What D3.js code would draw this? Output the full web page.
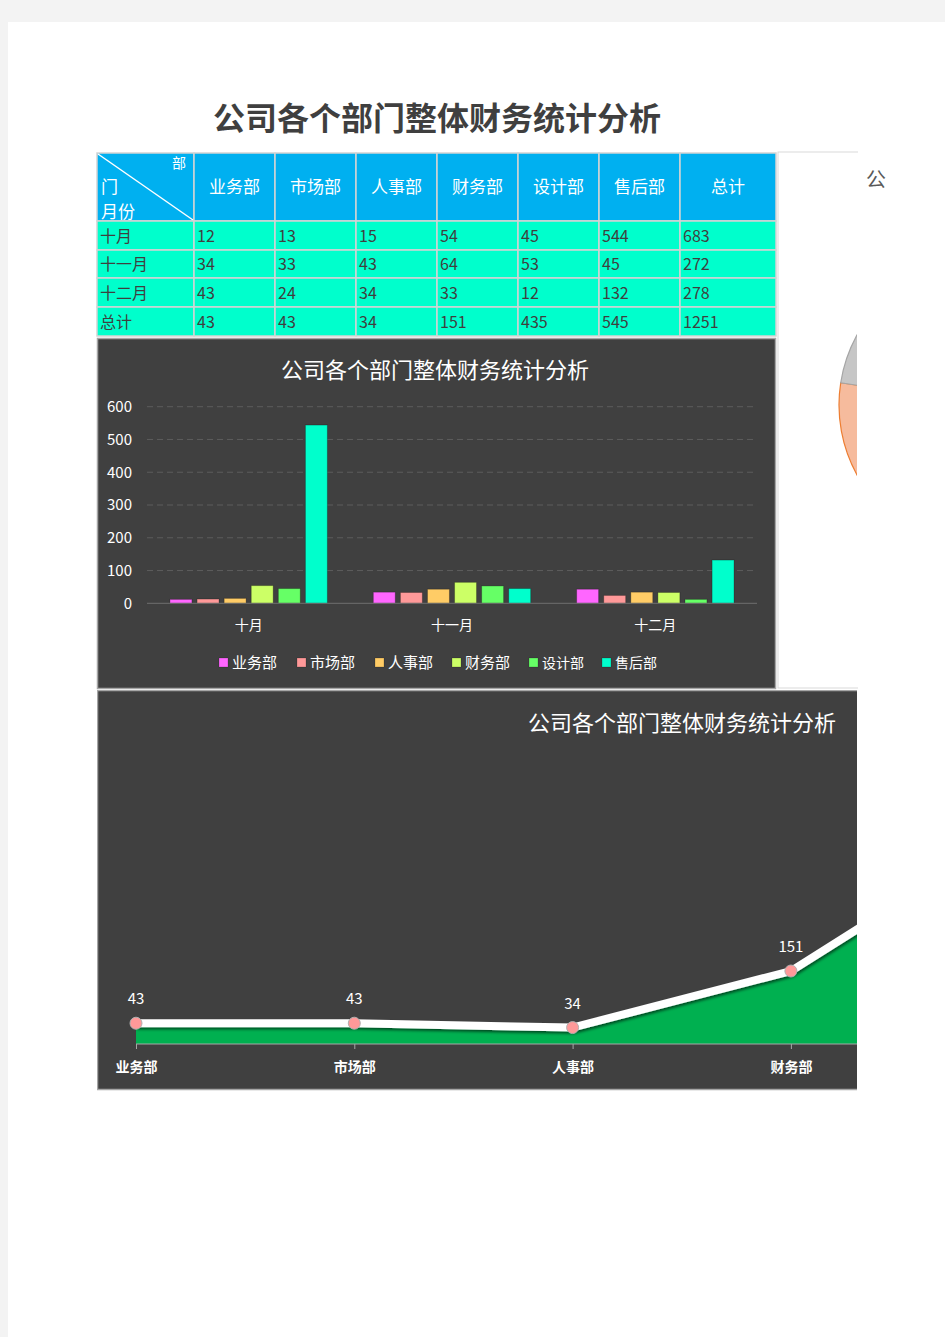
<!DOCTYPE html>
<html><head><meta charset="utf-8">
<script src="https://cdn.jsdelivr.net/npm/d3@7"></script>
<style>
html,body{margin:0;padding:0;background:#f3f3f3;}
svg{display:block;}
text{font-family:"Noto Sans CJK SC","Noto Sans",sans-serif;}
</style></head>
<body>
<svg id="c" width="945" height="1337"></svg>
<script>
const title = "公司各个部门整体财务统计分析";
const depts = ["业务部","市场部","人事部","财务部","设计部","售后部"];
const months = ["十月","十一月","十二月"];
const rowLabels = ["十月","十一月","十二月","总计"];
const octVals = [12,13,15,54,45,544];
const novVals = [34,33,43,64,53,45];
const decVals = [43,24,34,33,12,132];
const totalRow = [43,43,34,151,435,545];
const rowTotals = [683,272,278,1251];
const monthSeries = [octVals, novVals, decVals];
const yTicks = [0,100,200,300,400,500,600];
const deptColors = ["#ff66ff","#ff9999","#ffcc66","#ccff66","#66ff66","#00ffcc"];
const pieColors = ["#9dc3e6","#f6bb9d","#c6c6c6"];
const pieStroke = ["#5b9bd5","#ed7d31","#a5a5a5"];

const svg = d3.select("#c");
const defs = svg.append("defs");
const visibleRight = 857;

// page
svg.append("rect").attr("x",8).attr("y",22).attr("width",945).attr("height",1320).attr("fill","#fff");

// main title
svg.append("text").attr("x",437).attr("y",130).attr("text-anchor","middle")
  .attr("font-size",32).attr("font-weight","bold").attr("fill","#3f3f3f").text(title);

// ---------- Table ----------
const colEdges = [97,194,275,356,437,518,599,680,776];
const rowEdges = [153,221,250,278,307,336];
const tbl = svg.append("g");
for (let c=0;c<8;c++){
  tbl.append("rect").attr("x",colEdges[c]).attr("y",rowEdges[0])
    .attr("width",colEdges[c+1]-colEdges[c]).attr("height",rowEdges[1]-rowEdges[0])
    .attr("fill","#00b0f0").attr("stroke","#d4d4d4").attr("stroke-width",1.5);
}
const headers = depts.concat(["总计"]);
headers.forEach((h,i)=>{
  tbl.append("text").attr("x",(colEdges[i+1]+colEdges[i+2])/2).attr("y",193)
    .attr("text-anchor","middle").attr("font-size",17).attr("fill","#fff").text(h);
});
tbl.append("line").attr("x1",98).attr("y1",154).attr("x2",193).attr("y2",220)
  .attr("stroke","#fff").attr("stroke-width",1.5);
tbl.append("text").attr("x",186).attr("y",168).attr("text-anchor","end").attr("font-size",14).attr("fill","#fff").text("部");
tbl.append("text").attr("x",101).attr("y",193).attr("font-size",17).attr("fill","#fff").text("门");
tbl.append("text").attr("x",101).attr("y",218).attr("font-size",17).attr("fill","#fff").text("月份");
const bodyRows = [octVals, novVals, decVals, totalRow];
bodyRows.forEach((vals,r)=>{
  const y0 = rowEdges[r+1], y1 = rowEdges[r+2];
  const cells = [rowLabels[r]].concat(vals).concat([rowTotals[r]]);
  cells.forEach((v,c)=>{
    tbl.append("rect").attr("x",colEdges[c]).attr("y",y0)
      .attr("width",colEdges[c+1]-colEdges[c]).attr("height",y1-y0)
      .attr("fill","#00ffcc").attr("stroke","#d4d4d4").attr("stroke-width",1.5);
    tbl.append("text").attr("x",colEdges[c]+3).attr("y",(y0+y1)/2+6)
      .attr("font-size",16).attr("fill","#3f3f3f").text(v);
  });
});

// ---------- Right pie panel (clipped) ----------
defs.append("clipPath").attr("id","pieclip").append("rect")
  .attr("x",779).attr("y",153).attr("width",78).attr("height",535);
svg.append("rect").attr("x",778).attr("y",152).attr("width",90).attr("height",536)
  .attr("fill","#fff").attr("stroke","#d9d9d9");
svg.append("rect").attr("x",858).attr("y",140).attr("width",90).attr("height",560).attr("fill","#fff");
const pieG = svg.append("g").attr("clip-path","url(#pieclip)")
  .append("g").attr("transform","translate(984,405)");
const pie = d3.pie().sort(null)(rowTotals.slice(0,3));
const arc = d3.arc().innerRadius(0).outerRadius(145);
pieG.selectAll("path").data(pie).join("path").attr("d",arc)
  .attr("fill",(d,i)=>pieColors[i]).attr("stroke",(d,i)=>pieStroke[i]).attr("stroke-width",1.2);
svg.append("text").attr("x",866).attr("y",187).attr("font-size",20).attr("fill","#595959").text(title.charAt(0));

// ---------- Bar chart ----------
const bc = svg.append("g");
bc.append("rect").attr("x",97.5).attr("y",338.5).attr("width",678).attr("height",350)
  .attr("fill","#404040").attr("stroke","#a6a6a6").attr("stroke-width",1.5);
bc.append("text").attr("x",435).attr("y",378).attr("text-anchor","middle")
  .attr("font-size",22).attr("fill","#fff").text(title);
const by = d3.scaleLinear().domain([0,600]).range([603.3,406.7]);
const bx = d3.scaleBand().domain(months).range([147,757]).padding(0);
const bw = bx.bandwidth();
const bsub = d3.scaleBand().domain(depts).range([bw*0.113,bw*0.887]).paddingInner(0.19);
const grid = bc.append("g");
yTicks.forEach(t=>{
  if (t>0) grid.append("line").attr("x1",147).attr("x2",757).attr("y1",by(t)).attr("y2",by(t))
    .attr("stroke","#5c5c5c").attr("stroke-dasharray","6,4").attr("stroke-width",1);
});
const yAxis = d3.axisLeft(by).tickValues(yTicks).tickSize(0).tickPadding(0);
const yg = bc.append("g").attr("transform","translate(132,0)").call(yAxis);
yg.select(".domain").remove();
yg.selectAll("text").attr("font-size",15).attr("fill","#fff").attr("font-family","'Noto Sans CJK SC',sans-serif");
months.forEach((m,mi)=>{
  const g = bc.append("g").attr("transform",`translate(${bx(m)},0)`);
  g.selectAll("rect").data(monthSeries[mi]).join("rect")
    .attr("x",(d,i)=>bsub(depts[i])).attr("width",bsub.bandwidth())
    .attr("y",d=>by(d)).attr("height",d=>by(0)-by(d))
    .attr("fill",(d,i)=>deptColors[i]).attr("stroke","rgba(0,0,0,0.25)").attr("stroke-width",1);
});
bc.append("line").attr("x1",147).attr("x2",757).attr("y1",by(0)).attr("y2",by(0)).attr("stroke","#6e6e6e");
const xAxis = d3.axisBottom(bx).tickSize(0).tickPadding(0);
const xg = bc.append("g").attr("transform","translate(0,620)").call(xAxis);
xg.select(".domain").remove();
xg.selectAll("text").attr("font-size",14).attr("fill","#fff").attr("font-family","'Noto Sans CJK SC',sans-serif");
const legX = [219,297,375,452,529,602];
const legSize = [15,15,15,15,14,14];
depts.forEach((d,i)=>{
  bc.append("rect").attr("x",legX[i]).attr("y",658).attr("width",9).attr("height",9)
    .attr("fill",deptColors[i]).attr("stroke","rgba(0,0,0,0.3)").attr("stroke-width",0.6);
  bc.append("text").attr("x",legX[i]+13).attr("y",668).attr("font-size",legSize[i]).attr("fill","#fff").text(d);
});

// ---------- Area chart ----------
defs.append("clipPath").attr("id","areaclip").append("rect")
  .attr("x",97).attr("y",690).attr("width",760).attr("height",401);
const shadow = defs.append("filter").attr("id","sh").attr("x","-10%").attr("y","-50%").attr("width","120%").attr("height","200%");
shadow.append("feDropShadow").attr("dx",1).attr("dy",2).attr("stdDeviation",1.5).attr("flood-color","#000").attr("flood-opacity",0.6);
const ac = svg.append("g").attr("clip-path","url(#areaclip)");
ac.append("rect").attr("x",97.5).attr("y",690.5).attr("width",770).attr("height",399)
  .attr("fill","#404040").attr("stroke","#a6a6a6").attr("stroke-width",1.5);
ac.append("text").attr("x",682).attr("y",731).attr("text-anchor","middle")
  .attr("font-size",22).attr("fill","#fff").text(title);
const ax = d3.scalePoint().domain(depts).range([136,136+5*218.3]);
const ay = d3.scaleLinear().domain([0,600]).range([1044,754]);
const area = d3.area().x((d,i)=>ax(depts[i])).y0(ay(0)).y1(d=>ay(d));
ac.append("path").datum(totalRow).attr("d",area).attr("fill","#00b050");
const line = d3.line().x((d,i)=>ax(depts[i])).y(d=>ay(d));
ac.append("path").datum(totalRow).attr("d",line).attr("fill","none")
  .attr("stroke","#fff").attr("stroke-width",8).attr("filter","url(#sh)");
ac.append("line").attr("x1",136).attr("x2",1240).attr("y1",ay(0)).attr("y2",ay(0)).attr("stroke","#a6a6a6").attr("stroke-width",1);
const aXAxis = d3.axisBottom(ax).tickSize(5).tickPadding(13);
const axg = ac.append("g").attr("transform",`translate(0,${ay(0)})`).call(aXAxis);
axg.select(".domain").remove();
axg.selectAll("line").attr("stroke","#a6a6a6");
axg.selectAll(".tick").filter(d=>ax(d)>visibleRight-20).select("text").remove();
axg.selectAll("text").attr("font-size",14).attr("font-weight","bold").attr("fill","#fff").attr("font-family","'Noto Sans CJK SC',sans-serif");
ac.selectAll("circle.pt").data(totalRow).join("circle").attr("class","pt")
  .attr("cx",(d,i)=>ax(depts[i])).attr("cy",d=>ay(d)).attr("r",6)
  .attr("fill","#ff9999").attr("stroke","#b0b0b0").attr("stroke-width",1);
const shownLabels = totalRow.map((v,i)=>({v,i})).filter(o=>ax(depts[o.i])<visibleRight-20);
ac.selectAll("text.lbl").data(shownLabels).join("text").attr("class","lbl")
  .attr("x",o=>ax(depts[o.i])).attr("y",o=>ay(o.v)-19).attr("text-anchor","middle")
  .attr("font-size",15).attr("fill","#fff").text(o=>o.v);
</script>
</body></html>
